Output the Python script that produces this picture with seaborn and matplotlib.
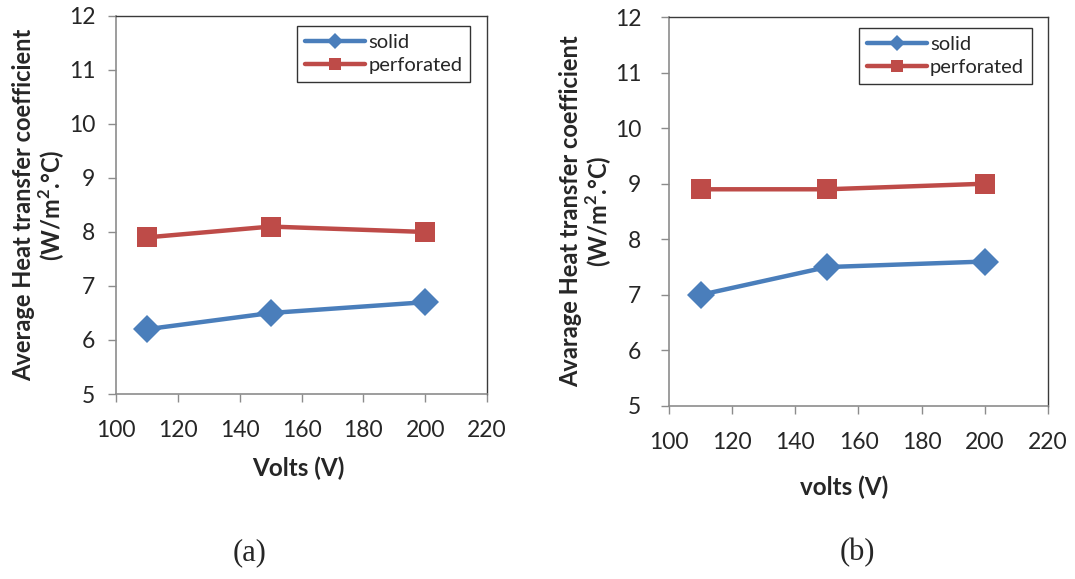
import matplotlib
matplotlib.use("Agg")
import matplotlib.pyplot as plt
import seaborn as sns
import pandas as pd

# Measured values for the two fin configurations
volts = [110, 150, 200]
solid_a = [6.2, 6.5, 6.7]
perforated_a = [7.9, 8.1, 8.0]
solid_b = [7.0, 7.5, 7.6]
perforated_b = [8.9, 8.9, 9.0]
series_names = ["solid", "perforated"]
x_ticks = [100, 120, 140, 160, 180, 200, 220]
y_ticks = [5, 6, 7, 8, 9, 10, 11, 12]

sns.set_theme(style="white")
plt.rcParams["font.family"] = ["Lato", "DejaVu Sans"]
plt.rcParams["mathtext.fontset"] = "custom"
plt.rcParams["mathtext.bf"] = "Lato:bold"
plt.rcParams["mathtext.rm"] = "Lato"

palette = {"solid": "#4A7EBB", "perforated": "#BE4B48"}
markers = {"solid": "D", "perforated": "s"}
marker_sizes = {"solid": 14, "perforated": 14}


def long_frame(solid, perforated):
    return pd.DataFrame({
        "V": volts * 2,
        "h": solid + perforated,
        "series": [series_names[0]] * len(volts) + [series_names[1]] * len(volts),
    })


def draw(ax, solid, perforated, xlabel, ylabel, legend_anchor,
         ylabel_x, xlabel_xy, ypad):
    df = long_frame(solid, perforated)
    for name in series_names:
        sub = df[df["series"] == name]
        sns.lineplot(data=sub, x="V", y="h", ax=ax, color=palette[name],
                     marker=markers[name], markersize=marker_sizes[name],
                     markeredgewidth=0, linewidth=3.2, label=name)
    ax.set_xlim(100, 220)
    ax.set_ylim(5, 12)
    ax.set_xticks(x_ticks)
    ax.set_yticks(y_ticks)
    ax.tick_params(axis="both", direction="out", length=6, width=1,
                   color="#8C8C8C", labelsize=16.5, labelcolor="#262626",
                   bottom=True, left=True)
    ax.tick_params(axis="x", pad=13)
    ax.tick_params(axis="y", pad=ypad)
    for side in ("left", "bottom"):
        ax.spines[side].set_color("#8C8C8C")
        ax.spines[side].set_linewidth(1.2)
    for side in ("top", "right"):
        ax.spines[side].set_color("#3A3A3A")
        ax.spines[side].set_linewidth(1.0)
    ax.set_xlabel(xlabel, fontsize=17.5, fontweight="bold")
    ax.xaxis.label.set_va("center")
    ax.xaxis.set_label_coords(*xlabel_xy)
    ax.set_ylabel(ylabel, fontsize=17, fontweight="bold", linespacing=1.05)
    ax.yaxis.label.set_va("center")
    ax.yaxis.set_label_coords(ylabel_x, 0.5)
    leg = ax.legend(loc="upper right", bbox_to_anchor=legend_anchor,
                    fontsize=14.5, frameon=True, fancybox=False,
                    edgecolor="black", handlelength=3.0, borderpad=0.4,
                    labelspacing=0.3, handletextpad=0.15, borderaxespad=0)
    leg.get_frame().set_linewidth(1.0)
    for h in leg.legend_handles:
        h.set_markersize(8)


fig = plt.figure(figsize=(10.75, 5.79), dpi=100)
ax1 = fig.add_axes([0.108, 0.3195, 0.345, 0.653])
ax2 = fig.add_axes([0.6223, 0.2988, 0.3526, 0.6718])

draw(ax1, solid_a, perforated_a, "Volts (V)",
     "Average Heat transfer coefficient\n(W/m$^{\\mathbf{2}}$.°C)",
     (0.955, 0.974), -0.207, (0.49, -0.196), 9)
draw(ax2, solid_b, perforated_b, "volts (V)",
     "Avarage Heat transfer coefficient\n(W/m$^{\\mathbf{2}}$.°C)",
     (0.958, 0.972), -0.218, (0.463, -0.208), 14)

fig.text(0.2326, 0.045, "(a)", fontsize=22, family="Liberation Serif",
         ha="center", va="center")
fig.text(0.798, 0.045, "(b)", fontsize=22, family="Liberation Serif",
         ha="center", va="center")

fig.savefig("out.png", dpi=100, facecolor="white")
